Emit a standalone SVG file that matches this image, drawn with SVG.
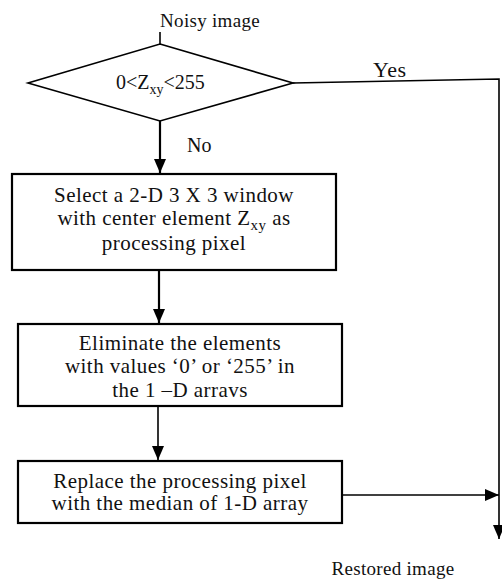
<svg xmlns="http://www.w3.org/2000/svg" width="502" height="579" viewBox="0 0 502 579">
<style>
text{font-family:"Liberation Serif","Times New Roman",serif;fill:#111;}
.box{fill:#fff;stroke:#000;stroke-width:2.2;}
.bt{font-size:21px;letter-spacing:0.45px;text-anchor:middle;}
.ln{fill:none;stroke:#000;stroke-width:1.6;}
.lt{fill:none;stroke:#000;stroke-width:2.2;}
</style>
<defs>
<marker id="ah" markerWidth="14" markerHeight="12" viewBox="0 0 14 12" refX="14" refY="6" orient="auto" markerUnits="userSpaceOnUse">
<path d="M0,0 L14,6 L0,12 Z" fill="#000"/>
</marker>
</defs>
<rect width="502" height="579" fill="#fff"/>
<g id="connectors">
<line class="ln" x1="160" y1="32" x2="160" y2="44"/>
<line class="lt" x1="160" y1="121" x2="160" y2="173" marker-end="url(#ah)"/>
<polyline class="ln" points="293,83 499,79 499,539" marker-end="url(#ah)"/>
<line class="lt" x1="159" y1="270" x2="159" y2="323" marker-end="url(#ah)"/>
<line class="ln" x1="158" y1="406" x2="158" y2="460" marker-end="url(#ah)"/>
<line class="ln" x1="342" y1="495" x2="499" y2="495" marker-end="url(#ah)"/>
<text x="373" y="77" style="font-size:22px;letter-spacing:0.5px">Yes</text>
<text x="187" y="152" style="font-size:20px">No</text>
</g>
<g id="start">
<text x="210" y="27" style="font-size:19px;text-anchor:middle;letter-spacing:0.3px">Noisy image</text>
</g>
<g id="decision">
<polygon class="ln" points="160,44 293,83 160,121 28,83" fill="#fff"/>
<text x="116" y="89" style="font-size:20px">0&lt;Z<tspan dy="5" style="font-size:14px">xy</tspan><tspan dy="-5">&lt;255</tspan></text>
</g>
<g id="select">
<rect class="box" x="12" y="174" width="324" height="96"/>
<text class="bt" x="174" y="202">Select a 2-D 3 X 3 window</text>
<text class="bt" x="174" y="225">with center element Z<tspan dy="5" style="font-size:15px">xy</tspan><tspan dy="-5"> as</tspan></text>
<text class="bt" x="174" y="250">processing pixel</text>
</g>
<g id="eliminate">
<rect class="box" x="18" y="324" width="324" height="82"/>
<text class="bt" x="180" y="350">Eliminate the elements</text>
<text class="bt" x="180" y="373">with values ‘0’ or ‘255’ in</text>
<text class="bt" x="180" y="397">the 1 –D arravs</text>
</g>
<g id="replace">
<rect class="box" x="18" y="461" width="324" height="62"/>
<text class="bt" x="180" y="488">Replace the processing pixel</text>
<text class="bt" x="180" y="510">with the median of 1-D array</text>
</g>
<g id="end">
<text x="393" y="575" style="font-size:19px;text-anchor:middle;letter-spacing:0.3px">Restored image</text>
</g>
</svg>
